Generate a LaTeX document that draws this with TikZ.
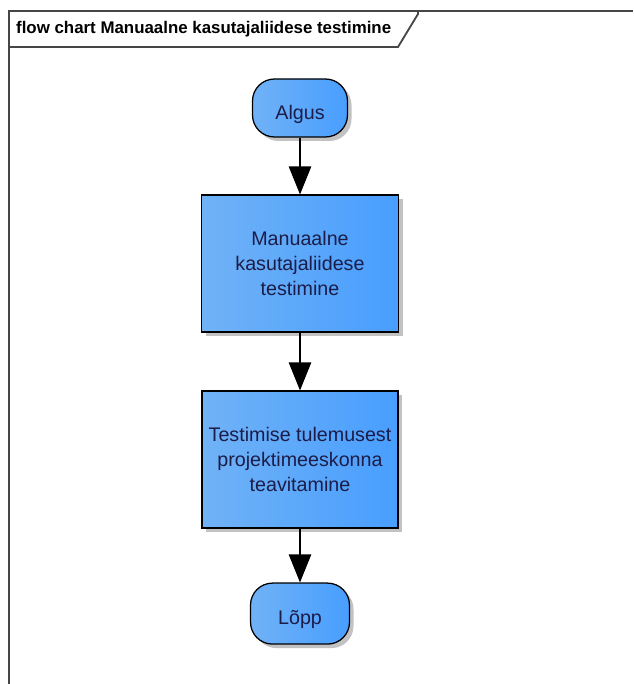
\documentclass[tikz,border=0pt]{standalone}
\usepackage{fontspec}
\setmainfont{Liberation Sans}
\usepackage{tikz}
\usetikzlibrary{arrows.meta, positioning, shadows}
\definecolor{ealeft}{RGB}{112,178,246}
\definecolor{eamid}{RGB}{145,202,255}
\definecolor{earight}{RGB}{72,158,255}
\definecolor{eatext}{RGB}{28,28,72}
\definecolor{eaframe}{RGB}{70,70,70}

\begin{document}
\begin{tikzpicture}[
    act/.style={draw=black, line width=0.9pt, left color=ealeft, middle color=eamid,
                right color=earight, text=eatext, align=center,
                font=\fontsize{14}{17.8}\selectfont,
                drop shadow={shadow xshift=0.1cm, shadow yshift=-0.1cm, fill=black!40, opacity=0.6}},
    term/.style={act, rounded corners=0.55cm, text height=0.56cm, text depth=0pt},
    flow/.style={-{Triangle[length=0.7cm, width=0.56cm]}, line width=0.8pt, black},
    frameline/.style={draw=eaframe, line width=1.3pt},
]
    \useasboundingbox (0,0) rectangle (15.825,-17.1);

    % diagram frame and its title tab
    \draw[frameline] (0.225,-17.1) -- (0.225,-0.275) -- (15.825,-0.275);
    \draw[frameline] (0.225,-1.175) -- (9.95,-1.175) -- (10.45,-0.35) -- (10.45,-0.275);
    \node[anchor=west, font=\fontsize{12}{14}\selectfont\bfseries] (title) at (0.28,-0.74)
        {flow chart Manuaalne kasutajaliidese testimine};

    \node[term, minimum width=2.375cm, minimum height=1.45cm] (algus) at (7.5,-2.7) {Algus};
    \node[act, minimum width=4.925cm, minimum height=3.425cm] (manual) at (7.5,-6.59)
        {Manuaalne\\kasutajaliidese\\testimine};
    \node[act, minimum width=4.9cm, minimum height=3.425cm] (teavita) at (7.5,-11.49)
        {Testimise tulemusest\\projektimeeskonna\\teavitamine};
    \node[term, minimum width=2.475cm, minimum height=1.525cm] (lopp) at (7.5,-15.34) {Lõpp};

    \draw[flow] (algus) -- (manual);
    \draw[flow] (manual) -- (teavita);
    \draw[flow] (teavita) -- (lopp);
\end{tikzpicture}
\end{document}
